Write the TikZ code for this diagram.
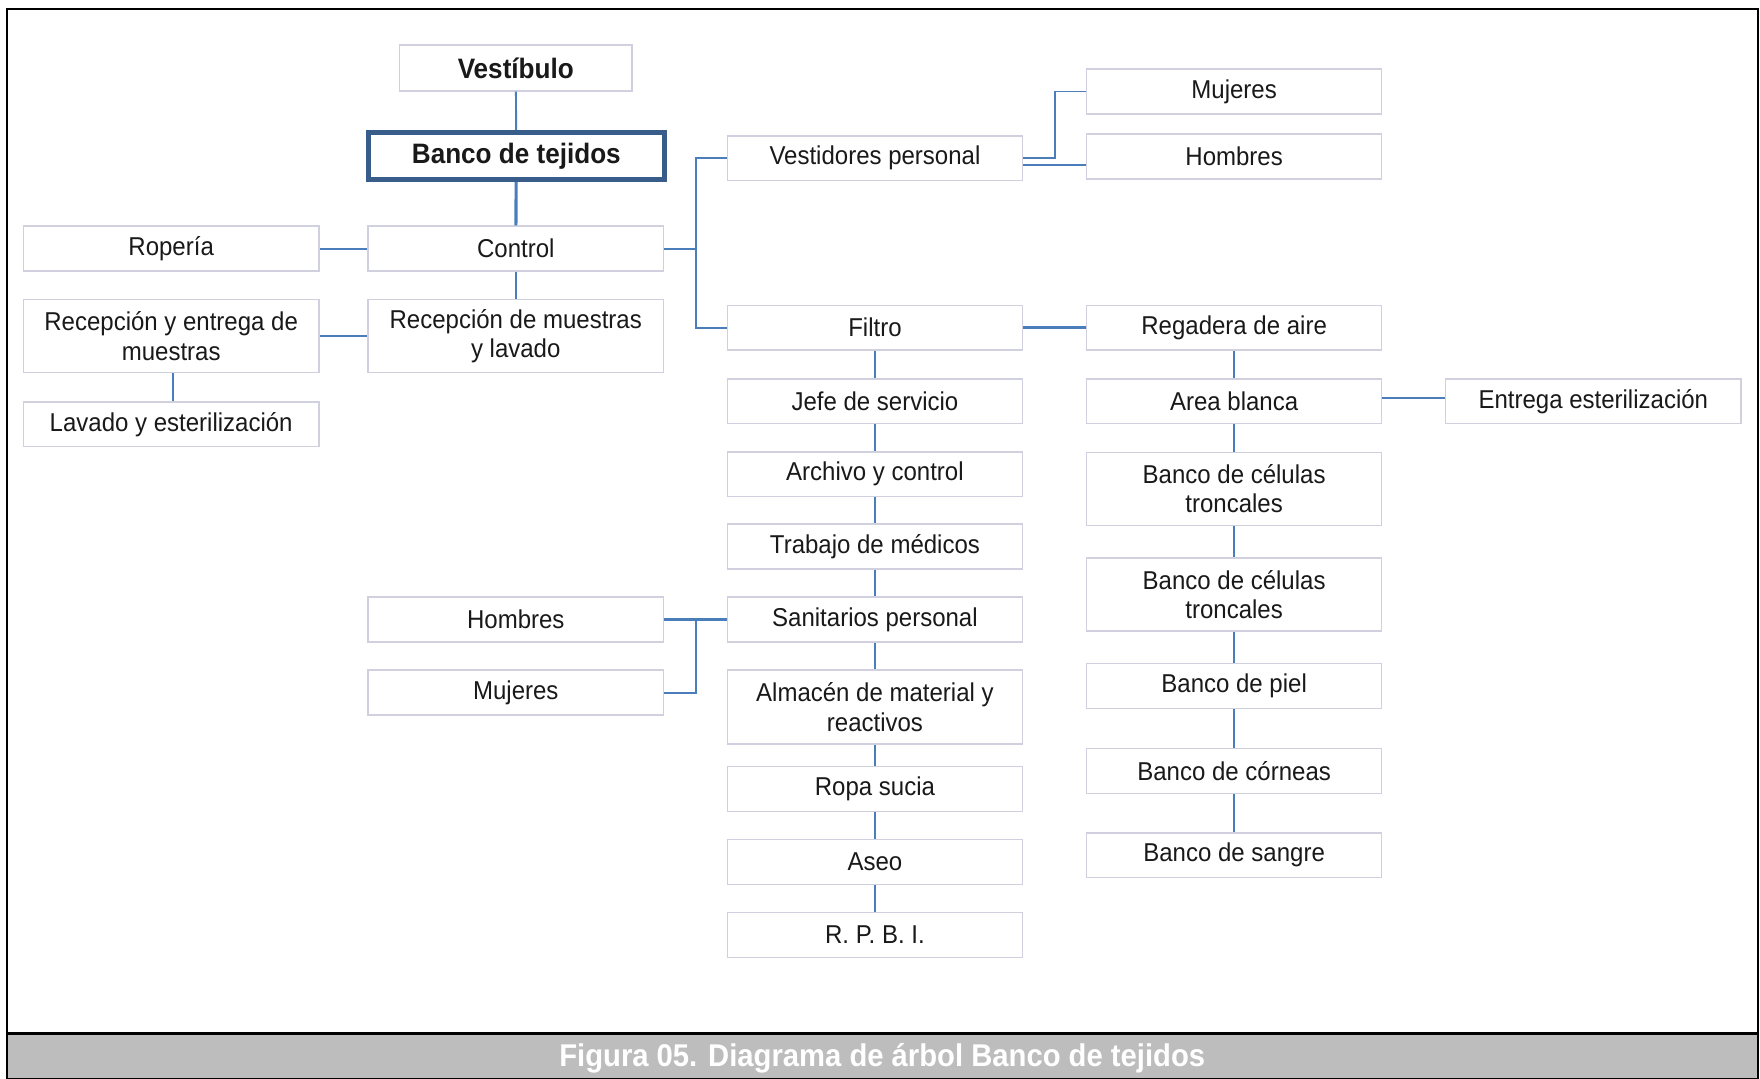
\documentclass[tikz,border=0pt]{standalone}
\usepackage{fontspec}
\setmainfont[FakeStretch=0.93]{Liberation Sans}
\definecolor{linkblue}{RGB}{74,126,187}
\definecolor{headblue}{RGB}{56,93,138}
\definecolor{boxline}{RGB}{208,208,222}
\definecolor{capgray}{RGB}{189,189,189}
\definecolor{ink}{RGB}{25,25,25}
\begin{document}
\begin{tikzpicture}[x=1pt,y=-1pt,
  box/.style={draw=boxline, line width=1.3pt, fill=white, text=ink,
    minimum width=263pt, minimum height=40pt, inner sep=0pt, align=center,
    font=\fontsize{23}{26}\selectfont},
  tallbox/.style={box, minimum height=65pt},
  headtext/.style={font=\bfseries\fontsize{25}{27}\selectfont},
  link/.style={draw=linkblue, line width=1.7pt},
  thicklink/.style={draw=linkblue, line width=2.8pt}]
\useasboundingbox (0,0) rectangle (1568,961);
% frame and caption bar
\fill[white] (0,0) rectangle (1568,961);
\fill[capgray] (6,921) rectangle (1566,961);
\draw[black, line width=2pt] (6,8) rectangle (1566,961);
\draw[black, line width=2.4pt] (6,921) -- (1566,921);
\node[text=white, font=\bfseries\fontsize{28}{30}\selectfont] (cap) at (786,943) {Figura 05. Diagrama de árbol Banco de tejidos};

% left block
\node[box, headtext, minimum width=207pt, minimum height=41pt] (vest0) at (459.5,60.5) {Vestíbulo};
\node[box, headtext, draw=headblue, line width=4.5pt, minimum width=264pt, minimum height=42pt] (banco) at (460,139) {Banco de tejidos};
\node[box] (control) at (459.5,221.5) {Control};
\node[box] (ropa) at (152.5,221.5) {Ropería};
\node[tallbox] (recent) at (152.5,299.5) {Recepción y entrega de\\muestras};
\node[tallbox] (recmue) at (459.5,299.5) {Recepción de muestras\\y lavado};
\node[box] (lavado) at (152.5,378) {Lavado y esterilización};

% middle column
\node[box] (vestp) at (779.5,141) {Vestidores personal};
\node[box] (filtro) at (779.5,292) {Filtro};
\node[box] (jefe) at (779.5,357.5) {Jefe de servicio};
\node[box] (archivo) at (779.5,422.5) {Archivo y control};
\node[box] (trabajo) at (779.5,487) {Trabajo de médicos};
\node[box] (sanit) at (779.5,552) {Sanitarios personal};
\node[tallbox, minimum height=66pt] (almacen) at (779.5,630) {Almacén de material y\\reactivos};
\node[box] (ropasuc) at (779.5,703) {Ropa sucia};
\node[box] (aseo) at (779.5,768) {Aseo};
\node[box] (rpbi) at (779.5,833) {R. P. B. I.};

% sanitarios branches
\node[box] (homL) at (459.5,552) {Hombres};
\node[box] (mujL) at (459.5,617) {Mujeres};

% right column
\node[box] (mujR) at (1099.5,81.5) {Mujeres};
\node[box] (homR) at (1099.5,139.5) {Hombres};
\node[box] (regad) at (1099.5,292) {Regadera de aire};
\node[box] (area) at (1099.5,357.5) {Area blanca};
\node[box] (entrega) at (1419.5,357.5) {Entrega esterilización};
\node[tallbox] (cel1) at (1099.5,435.5) {Banco de células\\troncales};
\node[tallbox] (cel2) at (1099.5,529.5) {Banco de células\\troncales};
\node[box] (piel) at (1099.5,611) {Banco de piel};
\node[box] (cornea) at (1099.5,687) {Banco de córneas};
\node[box] (sangre) at (1099.5,762) {Banco de sangre};

% trunk positions
\coordinate (tk) at (620,0);
\coordinate (vk) at (940,0);
\coordinate (sk) at (620,0);

% connectors, left block
\draw[link] (vest0) -- (banco);
\draw[thicklink] (banco) -- (control);
\draw[link] (control) -- (recmue);
\draw[link] (ropa) -- (control);
\draw[link] (recent) -- (recmue);
\draw[link] ([xshift=1.5pt]recent.south) -- ([xshift=1.5pt]lavado.north);

% control to vestidores / filtro
\draw[link] (control.east) -- (control.east -| tk);
\draw[link] (vestp.west) -- (vestp.west -| tk) -- (filtro.west -| tk) -- (filtro.west);

% vestidores to mujeres / hombres
\draw[link] (vestp.east) -- (vestp.east -| vk) -- (mujR.west -| vk) -- (mujR.west);
\draw[link] ([yshift=-6pt]vestp.east) -- ([yshift=-6pt]vestp.east -| homR.west);

% middle column chain
\draw[thicklink] (filtro) -- (regad);
\foreach \a/\b in {filtro/jefe, jefe/archivo, archivo/trabajo, trabajo/sanit,
                   sanit/almacen, almacen/ropasuc, ropasuc/aseo, aseo/rpbi}
  \draw[link] (\a) -- (\b);

% sanitarios to hombres / mujeres
\draw[thicklink] (homL) -- (sanit);
\draw[link] (sanit.west -| sk) -- (mujL.east -| sk) -- (mujL.east);

% right column chain
\foreach \a/\b in {regad/area, area/cel1, cel1/cel2, cel2/piel, piel/cornea, cornea/sangre}
  \draw[link] (\a) -- (\b);
\draw[link] ([yshift=3pt]area.east) -- ([yshift=3pt]area.east -| entrega.west);
\end{tikzpicture}
\end{document}
